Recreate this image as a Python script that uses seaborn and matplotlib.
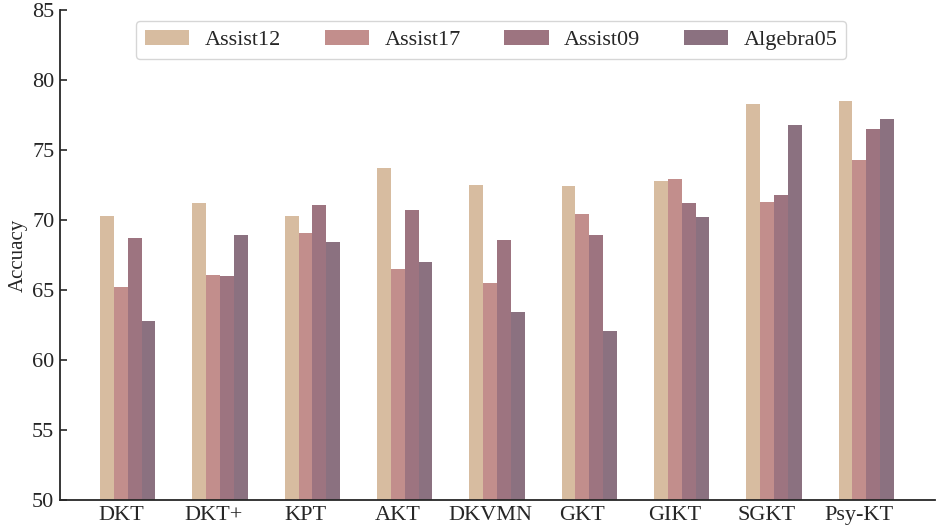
import numpy as np
import pandas as pd
import matplotlib
matplotlib.use("Agg")
import matplotlib.pyplot as plt
import seaborn as sns

# datos
modelos = ["DKT", "DKT+", "KPT", "AKT", "DKVMN", "GKT", "GIKT", "SGKT", "Psy-KT"]
datasets = ["Assist12", "Assist17", "Assist09", "Algebra05"]
assist12 = [70.3, 71.2, 70.3, 73.7, 72.5, 72.4, 72.8, 78.3, 78.5]
assist17 = [65.2, 66.1, 69.1, 66.5, 65.5, 70.4, 72.9, 71.3, 74.3]
assist09 = [68.7, 66.0, 71.1, 70.7, 68.6, 68.9, 71.2, 71.8, 76.5]
algebra05 = [62.8, 68.9, 68.4, 67.0, 63.4, 62.1, 70.2, 76.8, 77.2]
colores = ["#d7bca0", "#c28e8c", "#9d7480", "#8b7180"]

df = pd.DataFrame({
    "modelo": modelos * 4,
    "dataset": sum([[d] * len(modelos) for d in datasets], []),
    "acc": assist12 + assist17 + assist09 + algebra05,
})

sns.set_style("ticks")
plt.rcParams["font.family"] = ["Liberation Serif", "DejaVu Serif"]

fig, ax = plt.subplots(figsize=(9.36, 5.28), dpi=100)
sns.barplot(data=df, x="modelo", y="acc", hue="dataset", palette=colores,
            width=0.6, ax=ax, saturation=1, edgecolor="none")

ax.set_ylim(50, 85)
ax.set_xlim(-0.735, 8.745)
ax.set_yticks(np.arange(50, 86, 5))
ax.set_xticks(np.arange(len(modelos)) - 0.075)
ax.set_xticklabels(modelos)
ax.tick_params(direction="in", labelsize=16, width=1.2, length=5, pad=4)
ax.set_xlabel("")
ax.set_ylabel("Accuacy", fontsize=15, labelpad=3)
for s in ["top", "right"]:
    ax.spines[s].set_visible(False)
for s in ["left", "bottom"]:
    ax.spines[s].set_linewidth(1.3)

ax.legend(loc="upper left", bbox_to_anchor=(0.087, 0.978), ncol=4, fontsize=16,
          frameon=True, fancybox=True, edgecolor="#cccccc", handlelength=2.0,
          handleheight=0.7, columnspacing=1.95, handletextpad=0.7, borderpad=0.4,
          borderaxespad=0)

plt.subplots_adjust(left=0.064, right=0.999, bottom=0.053, top=0.981)
plt.savefig("out.png", dpi=100)
